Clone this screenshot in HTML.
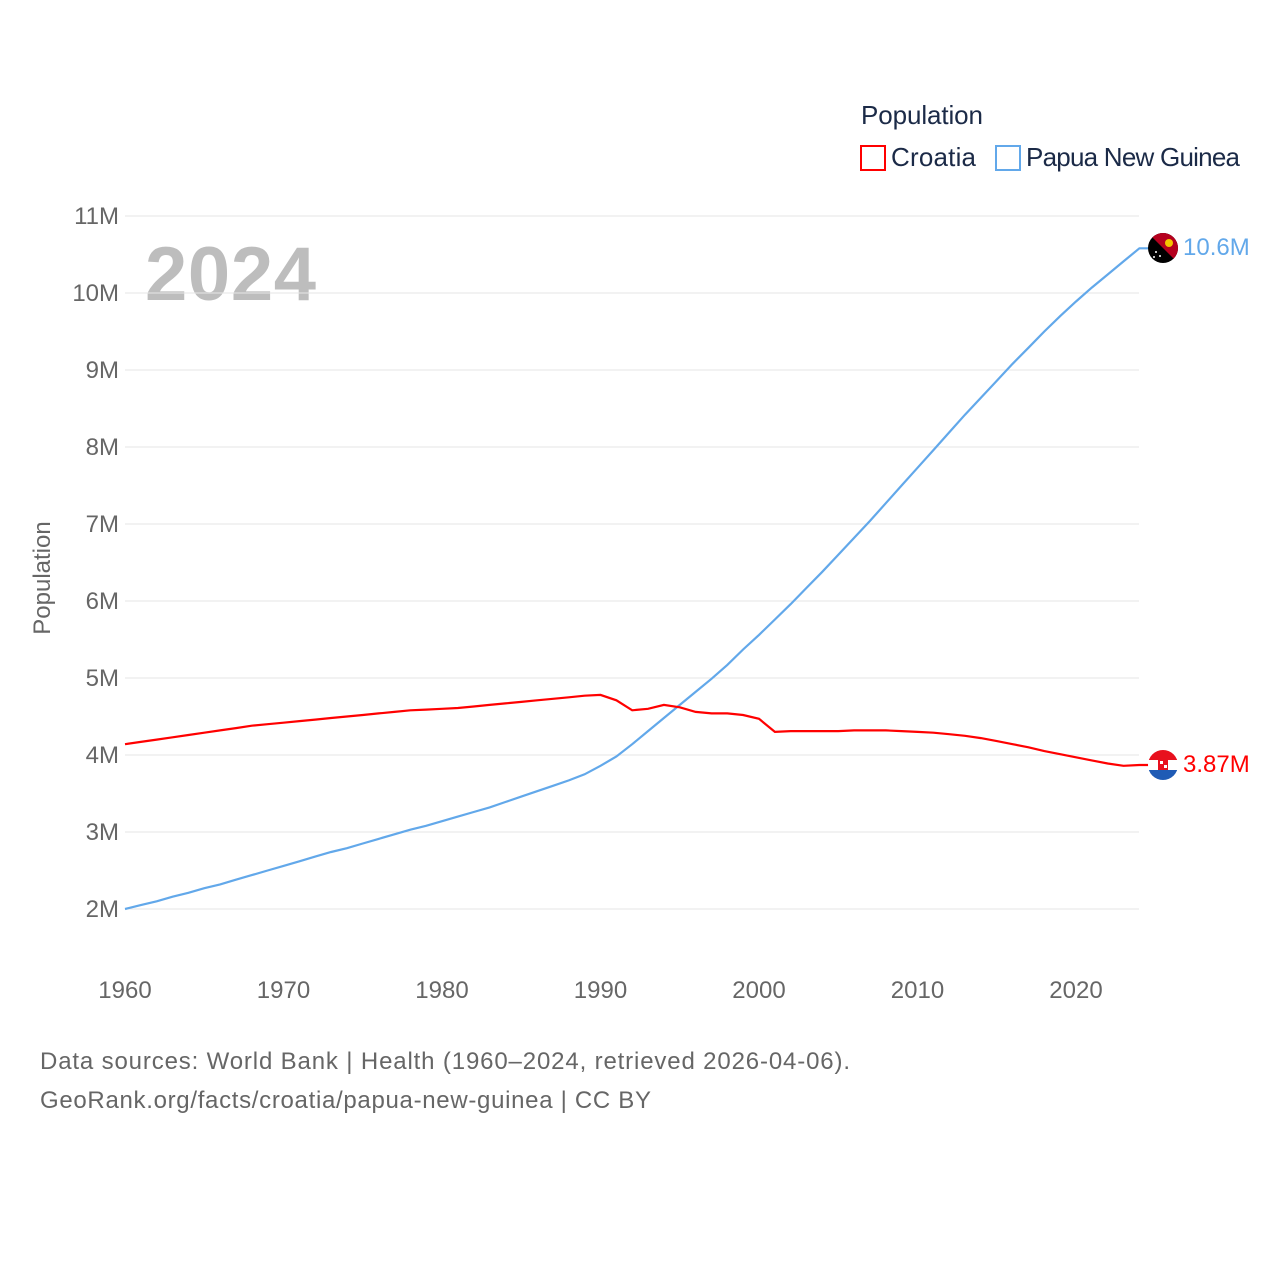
<!DOCTYPE html>
<html><head><meta charset="utf-8"><style>
body{margin:0;background:#fff;}
svg{font-family:"Liberation Sans",sans-serif;}
</style></head><body>
<svg id="c" width="1280" height="1280" viewBox="0 0 1280 1280">
<text x="861" y="124" font-size="26" fill="#1b2a47" textLength="122">Population</text>
<g><rect x="861" y="146" width="24" height="24" fill="none" stroke="#ff0000" stroke-width="2"/><text x="891" y="166" font-size="26" fill="#1b2a47" textLength="85">Croatia</text></g>
<g><rect x="996" y="146" width="24" height="24" fill="none" stroke="#62a8ea" stroke-width="2"/><text x="1026" y="166" font-size="26" fill="#1b2a47" textLength="214">Papua New Guinea</text></g>
<text x="145" y="300" font-size="76" font-weight="bold" fill="#bdbdbd" textLength="171">2024</text>
<text transform="translate(50,578) rotate(-90)" text-anchor="middle" font-size="24" fill="#666">Population</text>
<g id="grid"></g><g id="xt"></g><g id="lines"></g>
<g transform="translate(1163,248)"><clipPath id="cp1"><circle r="15"/></clipPath><g clip-path="url(#cp1)"><rect x="-15" y="-15" width="30" height="30" fill="#000"/><polygon points="-15,-15 15,-15 15,15" fill="#b5001e"/><circle cx="6" cy="-5" r="4" fill="#f5c400"/><circle cx="-7" cy="4" r="1" fill="#fff"/><circle cx="-3" cy="8" r="1" fill="#fff"/><circle cx="-9" cy="9" r="1" fill="#fff"/></g></g>
<text x="1183" y="255" font-size="24" fill="#62a8ea">10.6M</text>
<g transform="translate(1163,765)"><clipPath id="cp2"><circle r="15"/></clipPath><g clip-path="url(#cp2)"><rect x="-15" y="-15" width="30" height="10" fill="#e8101e"/><rect x="-15" y="-5" width="30" height="10" fill="#fff"/><rect x="-15" y="5" width="30" height="10" fill="#1f5bb5"/><rect x="-5" y="-6" width="10" height="11" fill="#e8101e"/><rect x="-3" y="-4" width="3" height="3" fill="#fff"/><rect x="1" y="0" width="3" height="3" fill="#fff"/></g></g>
<text x="1183" y="772" font-size="24" fill="#ff0000">3.87M</text>
<text x="40" y="1069" font-size="24" fill="#666" textLength="810">Data sources: World Bank | Health (1960–2024, retrieved 2026-04-06).</text>
<text x="40" y="1108" font-size="24" fill="#666" textLength="611">GeoRank.org/facts/croatia/papua-new-guinea | CC BY</text>
</svg>
<script>
const yTicks=[2,3,4,5,6,7,8,9,10,11];
const xTicks=[1960,1970,1980,1990,2000,2010,2020];
const startYear=1960;
const croatia=[4.14,4.17,4.20,4.23,4.26,4.29,4.32,4.35,4.38,4.40,4.42,4.44,4.46,4.48,4.50,4.52,4.54,4.56,4.58,4.59,4.60,4.61,4.63,4.65,4.67,4.69,4.71,4.73,4.75,4.77,4.78,
4.71,4.58,4.60,4.65,4.62,4.56,4.54,4.54,4.52,4.47,4.30,4.31,4.31,4.31,4.31,4.32,4.32,4.32,4.31,4.30,4.29,4.27,4.25,4.22,4.18,4.14,4.10,4.05,4.01,3.97,3.93,3.89,3.86,3.87];
const png=[2.00,2.05,2.10,2.16,2.21,2.27,2.32,2.38,2.44,2.50,2.56,2.62,2.68,2.74,2.79,2.85,2.91,2.97,3.03,3.08,3.14,3.20,3.26,3.32,3.39,3.46,3.53,3.60,3.67,3.75,3.86,3.98,4.14,4.31,4.48,4.65,4.82,4.99,5.17,5.37,5.56,5.76,5.96,6.17,6.38,6.60,6.82,7.04,7.27,7.50,7.73,7.96,8.19,8.42,8.64,8.86,9.08,9.29,9.50,9.70,9.89,10.07,10.24,10.41,10.58];
const X=yr=>125+(yr-1960)*(1076-125)/60;
const Y=v=>909-(v-2)*77;
const NS='http://www.w3.org/2000/svg';
function mk(t,a,p){const e=document.createElementNS(NS,t);for(const k in a)e.setAttribute(k,a[k]);p.appendChild(e);return e;}
const grid=document.getElementById('grid');
yTicks.forEach(v=>{
 const l=mk('line',{x1:125,x2:1139,y1:Y(v),y2:Y(v),stroke:'#e6e6e6','stroke-width':1},grid);
 
 
 const t=mk('text',{x:119,y:Y(v)+8,'text-anchor':'end','font-size':24,fill:'#666'},grid);
 t.textContent=v+'M';
 
 
});
const xt=document.getElementById('xt');
xTicks.forEach(yr=>{
 const t=mk('text',{x:X(yr),y:998,'text-anchor':'middle','font-size':24,fill:'#666'},xt);
 t.textContent=yr;
 
 
});
const lines=document.getElementById('lines');
function draw(arr,col,name){
 let d=arr.map((v,i)=>(i?'L':'M')+X(startYear+i).toFixed(1)+','+Y(v).toFixed(1)).join(' ');
 const last=arr[arr.length-1];
 d+=' L1150,'+Y(last).toFixed(1);
 const p=mk('path',{d:d,fill:'none',stroke:col,'stroke-width':2.2},lines);
 
 
}
draw(png,'#62a8ea','png-line');
draw(croatia,'#ff0000','croatia-line');
</script>
</body></html>
